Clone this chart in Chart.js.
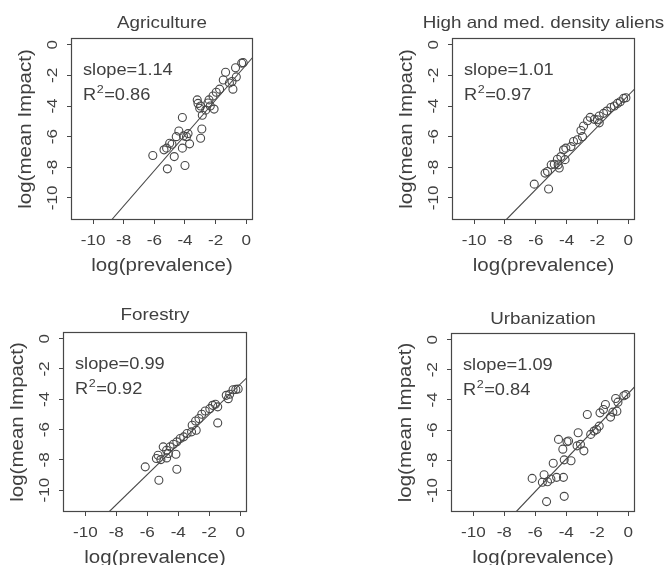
<!DOCTYPE html>
<html>
<head>
<meta charset="utf-8">
<script src="https://cdn.jsdelivr.net/npm/chart.js@4.4.0/dist/chart.umd.min.js"></script>
<style>
  body { margin: 0; background: #fff; width: 664px; height: 565px; overflow: hidden; position: relative; }
  canvas { position: absolute; }
</style>
</head>
<body>
<canvas id="agri" width="332" height="283" style="left:0;top:0"></canvas>
<canvas id="alien" width="332" height="283" style="left:332px;top:0"></canvas>
<canvas id="forest" width="332" height="282" style="left:0;top:283px"></canvas>
<canvas id="urban" width="332" height="282" style="left:332px;top:283px"></canvas>
<script>
// ========== DATA ==========
const xTicks = [-10, -8, -6, -4, -2, 0];
const yTicks = [-10, -8, -6, -4, -2, 0];
const axisMin = -11.44, axisMax = 0.44;

const titles = ['Agriculture', 'High and med. density aliens', 'Forestry', 'Urbanization'];
const slopes = ['1.14', '1.01', '0.99', '1.09'];
const r2s = ['0.86', '0.97', '0.92', '0.84'];

const agriX = [-0.2, -0.3, -0.7, -1.35, -0.65, -0.93, -1.1, -0.87, -1.5, -1.74, -1.96, -2.17, -2.43, -2.35, -2.1, -2.65, -2.98, -2.5, -3.2, -3.15, -3.04, -2.87, -2.9, -2.98, -4.17, -4.4, -4.1, -3.8, -3.9, -3.7, -4.17, -4.57, -4.7, -5.0, -5.2, -5.37, -6.1, -5.15, -4.0, -4.85];
const agriY = [-1.17, -1.2, -1.5, -1.8, -2.1, -2.4, -2.5, -2.9, -2.3, -2.9, -3.1, -3.35, -3.6, -4.0, -4.2, -4.27, -4.0, -3.8, -3.6, -3.83, -4.15, -4.6, -5.5, -6.1, -4.75, -5.63, -5.95, -5.8, -6.0, -6.47, -6.75, -6.0, -7.3, -6.43, -6.75, -6.86, -7.23, -8.1, -7.88, -6.5];

const alienX = [-0.15, -0.3, -0.52, -0.7, -0.9, -1.13, -1.39, -1.6, -1.88, -2.0, -1.88, -2.2, -2.47, -2.64, -2.9, -3.07, -2.97, -3.3, -3.55, -3.72, -4.05, -4.2, -4.37, -4.6, -4.1, -4.8, -5.0, -4.55, -4.48, -5.24, -5.4, -6.1, -5.17];
const alienY = [-3.46, -3.5, -3.72, -3.83, -4.0, -4.1, -4.33, -4.48, -4.65, -4.9, -5.1, -4.87, -4.74, -4.96, -5.3, -5.6, -6.0, -6.2, -6.32, -6.65, -6.75, -6.86, -7.3, -7.47, -7.5, -7.8, -7.84, -7.84, -8.05, -8.27, -8.38, -9.1, -9.42];

const forestX = [-0.13, -0.28, -0.46, -0.68, -0.9, -0.77, -1.45, -1.6, -1.78, -1.96, -2.26, -2.48, -2.66, -1.45, -2.88, -3.1, -2.84, -3.14, -3.43, -3.65, -3.87, -4.09, -4.31, -4.53, -4.75, -4.97, -4.64, -4.15, -5.3, -5.41, -4.09, -6.13, -5.25, -5.12, -4.75];
const forestY = [-3.32, -3.35, -3.37, -3.67, -3.74, -3.96, -4.5, -4.33, -4.4, -4.62, -4.77, -4.99, -5.27, -5.56, -5.43, -5.71, -6.04, -6.15, -6.26, -6.48, -6.59, -6.81, -6.97, -7.14, -7.36, -7.14, -7.58, -7.63, -7.69, -7.91, -8.62, -8.46, -9.34, -7.98, -7.87];

const urbanX = [-0.15, -0.28, -0.81, -0.66, -0.73, -0.99, -1.14, -1.47, -1.6, -1.82, -1.87, -2.04, -2.2, -2.42, -2.64, -3.23, -3.08, -2.86, -3.3, -3.85, -3.95, -4.5, -4.22, -4.13, -3.69, -4.84, -4.18, -4.62, -4.99, -5.43, -5.21, -5.54, -6.2, -5.27, -4.13];
const urbanY = [-3.65, -3.72, -3.91, -4.15, -4.75, -4.81, -5.14, -4.31, -4.64, -4.86, -5.74, -5.96, -6.07, -6.29, -4.97, -6.18, -6.95, -7.38, -7.05, -6.73, -6.78, -6.62, -7.27, -7.98, -8.04, -8.2, -9.14, -9.14, -9.25, -8.97, -9.43, -9.47, -9.21, -10.75, -10.4];

// fitted lines (where they leave the frame)
const agriFitX = [-8.8, 0.44], agriFitY = [-11.44, -0.8];
const alienFitX = [-7.94, 0.44], alienFitY = [-11.44, -2.86];
const forestFitX = [-8.48, 0.44], forestFitY = [-11.44, -2.57];
const urbanFitX = [-7.25, 0.44], urbanFitY = [-11.44, -3.1];

// ========== LAYOUT ==========
const INK = '#474747';
const TXT = '#404040';
const FONT = '"Liberation Sans", Arial, Helvetica, sans-serif';
const STRETCH = 1.14;

const panels = [
    { id: 'agri',   xs: agriX,   ys: agriY,   fx: agriFitX,   fy: agriFitY,   cv: [0, 0, 332, 283],     box: [71, 38, 253, 220],  gap: 10 },
    { id: 'alien',  xs: alienX,  ys: alienY,  fx: alienFitX,  fy: alienFitY,  cv: [332, 0, 332, 283],   box: [452, 38, 635, 220], gap: 10 },
    { id: 'forest', xs: forestX, ys: forestY, fx: forestFitX, fy: forestFitY, cv: [0, 283, 332, 282],   box: [63, 332, 247, 512], gap: 12 },
    { id: 'urban',  xs: urbanX,  ys: urbanY,  fx: urbanFitX,  fy: urbanFitY,  cv: [332, 283, 332, 282], box: [451, 333, 635, 512], gap: 9 }
];

// stretched text, the scan has wide glyphs
function sText(ctx, str, x, y, size, align, baseline, rotate) {
    ctx.save();
    ctx.translate(x, y);
    if (rotate) ctx.rotate(-Math.PI / 2);
    ctx.scale(STRETCH, 1);
    ctx.font = size + 'px ' + FONT;
    ctx.fillStyle = TXT;
    ctx.textAlign = align;
    ctx.textBaseline = baseline;
    ctx.fillText(str, 0, 0);
    const w = ctx.measureText(str).width * STRETCH;
    ctx.restore();
    return w;
}

const annotate = {
    id: 'annotate',
    afterDraw(chart, args, opts) {
        const ctx = chart.ctx;
        const a = chart.chartArea;
        const xs = chart.scales.x, ys = chart.scales.y;
        // frame
        ctx.save();
        ctx.strokeStyle = INK;
        ctx.lineWidth = 1.2;
        ctx.strokeRect(a.left + 0.5, a.top + 0.5, a.right - a.left - 1, a.bottom - a.top - 1);
        ctx.restore();
        // tick labels
        xTicks.forEach(v => sText(ctx, String(v), xs.getPixelForValue(v), a.bottom + 21, 15, 'center', 'middle'));
        yTicks.forEach(v => sText(ctx, String(v), a.left - 18, ys.getPixelForValue(v), 15, 'center', 'middle', true));
        // axis titles
        const cx = (a.left + a.right) / 2, cy = (a.top + a.bottom) / 2;
        sText(ctx, 'log(prevalence)', cx, a.bottom + 46, 18, 'center', 'middle');
        sText(ctx, 'log(mean Impact)', a.left - 45, cy, 18, 'center', 'middle', true);
        // panel title
        sText(ctx, titles[opts.idx], cx, a.top - opts.gap, 16.5, 'center', 'alphabetic');
        // slope and R²
        const lx = a.left + 12;
        sText(ctx, 'slope=' + slopes[opts.idx], lx, a.top + 37, 16, 'left', 'alphabetic');
        let w = sText(ctx, 'R', lx, a.top + 62, 16, 'left', 'alphabetic');
        const w2 = sText(ctx, '2', lx + w + 0.5, a.top + 55, 11, 'left', 'alphabetic');
        sText(ctx, '=' + r2s[opts.idx], lx + w + w2 + 1, a.top + 62, 16, 'left', 'alphabetic');
    }
};

function makeAxis(ticks, sizeKey, size) {
    return {
        type: 'linear',
        min: axisMin,
        max: axisMax,
        afterBuildTicks: s => { s.ticks = ticks.map(v => ({ value: v })); },
        afterFit: s => { s[sizeKey] = size; },
        ticks: { display: false },
        grid: { display: true, drawOnChartArea: false, drawTicks: true, tickLength: 4, color: INK, lineWidth: 1 },
        border: { display: false }
    };
}

panels.forEach((p, i) => {
    const [cl, ct, cw, ch] = p.cv;
    const [L, T, R, B] = p.box;
    new Chart(document.getElementById(p.id).getContext('2d'), {
        type: 'scatter',
        data: {
            datasets: [
                {
                    data: p.xs.map((x, k) => ({ x: x, y: p.ys[k] })),
                    pointStyle: 'circle',
                    pointRadius: 4,
                    pointBorderWidth: 1.1,
                    pointBorderColor: INK,
                    pointBackgroundColor: 'rgba(0,0,0,0)'
                },
                {
                    data: p.fx.map((x, k) => ({ x: x, y: p.fy[k] })),
                    showLine: true,
                    borderColor: INK,
                    borderWidth: 1.1,
                    pointRadius: 0
                }
            ]
        },
        options: {
            responsive: false,
            animation: false,
            events: [],
            devicePixelRatio: 1,
            layout: { padding: { left: 0, top: T - ct, right: cl + cw - R, bottom: 0 } },
            plugins: {
                legend: { display: false },
                tooltip: { enabled: false },
                annotate: { idx: i, gap: p.gap }
            },
            scales: {
                x: makeAxis(xTicks, 'height', ct + ch - B),
                y: makeAxis(yTicks, 'width', L - cl)
            }
        },
        plugins: [annotate]
    });
});
</script>
</body>
</html>
